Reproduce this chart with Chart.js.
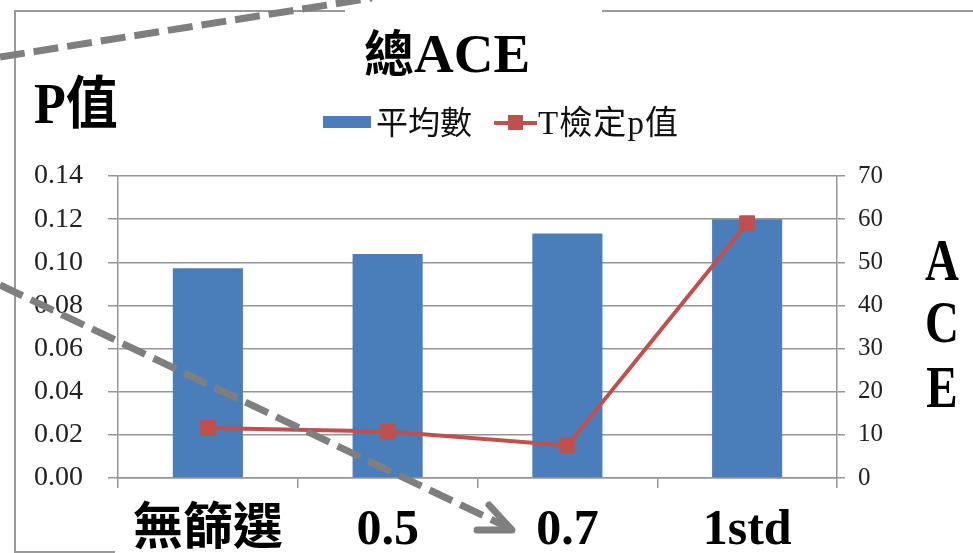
<!DOCTYPE html>
<html>
<head>
<meta charset="utf-8">
<script src="https://cdn.jsdelivr.net/npm/chart.js@4/dist/chart.umd.min.js"></script>
<style>
  html, body { margin: 0; padding: 0; background: #fff; overflow: hidden; }
  #wrap { position: absolute; left: 0; top: 0; width: 973px; height: 553px; }
  #overlay { position: absolute; left: 0; top: 0; pointer-events: none; }
</style>
</head>
<body>
<div id="wrap"><canvas id="myChart"></canvas></div>

<svg id="overlay" width="973" height="553" xmlns="http://www.w3.org/2000/svg">
  <!-- 外框 -->
  <path d="M15,553 V11 H345 M602,11 H973 M15,552 H115" fill="none" stroke="#9a9a9a" stroke-width="2"/>

  <!-- 標題 / 軸名 -->
  <text x="364" y="72" font-family="'Liberation Serif','Noto Sans CJK TC'" font-weight="bold" font-size="55" fill="#000"><tspan font-size="50">總</tspan>ACE</text>
  <text transform="translate(34,123) scale(1,1.1)" font-family="'Liberation Serif','Noto Sans CJK TC'" font-weight="bold" font-size="52" fill="#000">P值</text>
  <g font-family="'Liberation Serif'" font-weight="bold" font-size="47" fill="#000" text-anchor="middle">
    <text transform="translate(942,280) scale(1,1.28)">A</text>
    <text transform="translate(942,342) scale(1,1.28)">C</text>
    <text transform="translate(942,407) scale(1,1.28)">E</text>
  </g>

  <!-- 圖例 -->
  <rect x="323" y="116" width="48" height="12" fill="#4a7ebb"/>
  <text x="376" y="134" font-family="'Noto Sans CJK TC'" font-size="32" fill="#111">平均數</text>
  <rect x="494" y="121" width="43" height="4" fill="#c0504d"/>
  <rect x="508" y="115" width="15" height="15" fill="#c0504d"/>
  <text x="538" y="134" font-family="'Liberation Serif','Noto Sans CJK TC'" font-size="33" fill="#111" textLength="140">T檢定p值</text>

  <!-- 虛線箭頭 -->
  <g stroke="#7f7f7f" stroke-width="7" fill="none">
    <line x1="0" y1="57" x2="372" y2="-2" stroke-dasharray="25 9"/>
    <line x1="0" y1="285" x2="505" y2="526" stroke-dasharray="25 9"/>
    <polyline points="477,530 512,530 489,505" stroke-linecap="round" stroke-linejoin="round"/>
  </g>
</svg>

<script>
// 篩選條件
const categories = ['無篩選', '0.5', '0.7', '1std']
// 總ACE 平均數 (右軸)
const aceMean = [48.6, 51.9, 56.7, 60.0]
// T檢定 p值 (左軸)
const tTestP = [0.0232, 0.0216, 0.0151, 0.1181]
// 左軸刻度
const pTicks = [0, 0.02, 0.04, 0.06, 0.08, 0.10, 0.12, 0.14]
// 右軸刻度
const aceTicks = [0, 10, 20, 30, 40, 50, 60, 70]

document.addEventListener('DOMContentLoaded', function () {
  drawChart()
})

function drawChart() {
  const gridColor = '#969696'
  const serif = "'Liberation Serif', 'Noto Sans CJK TC'"

  let ctx = document.getElementById('myChart')
  const data = {
    labels: categories,
    datasets: [{
      type: 'line',
      label: 'T檢定p值',
      data: tTestP,
      yAxisID: 'yP',
      order: 0,
      borderColor: '#c0504d',
      borderWidth: 4,
      pointStyle: 'rect',
      pointRadius: 10.5,
      pointBackgroundColor: '#c0504d',
      pointBorderColor: '#c0504d',
      pointBorderWidth: 1,
      tension: 0
    }, {
      type: 'bar',
      label: '平均數',
      data: aceMean,
      yAxisID: 'yAce',
      order: 1,
      backgroundColor: '#4a7ebb',
      borderWidth: 0,
      barPercentage: 0.39,
      categoryPercentage: 1
    }]
  }

  const config = {
    type: 'bar',
    data: data,
    options: {
      responsive: true,
      maintainAspectRatio: false,
      animation: false,
      layout: {
        padding: { top: 176, left: 0, right: 0, bottom: 0 }
      },
      plugins: {
        legend: { display: false },
        title: { display: false },
        tooltip: { enabled: false }
      },
      scales: {
        x: {
          offset: true,
          grid: {
            offset: true,
            drawOnChartArea: false,
            tickLength: 10,
            color: gridColor,
            lineWidth: 1.5
          },
          border: { color: gridColor, width: 1.5 },
          ticks: {
            color: '#000',
            font: { family: serif, size: 50, weight: 'bold' },
            padding: 13,
            maxRotation: 0,
            autoSkip: false
          },
          afterFit: function (scale) { scale.height = 75 }
        },
        yP: {
          position: 'left',
          min: pTicks[0],
          max: pTicks[pTicks.length - 1],
          afterBuildTicks: function (scale) {
            scale.ticks = pTicks.map((v) => ({ value: v }))
          },
          grid: { tickLength: 10, color: gridColor, lineWidth: 1.5 },
          border: { color: gridColor, width: 1.5 },
          ticks: {
            color: '#222',
            font: { family: serif, size: 28 },
            padding: 25,
            callback: (v) => Number(v).toFixed(2)
          },
          afterFit: function (scale) { scale.width = 118 }
        },
        yAce: {
          position: 'right',
          min: aceTicks[0],
          max: aceTicks[aceTicks.length - 1],
          afterBuildTicks: function (scale) {
            scale.ticks = aceTicks.map((v) => ({ value: v }))
          },
          grid: { drawOnChartArea: false, tickLength: 8, color: gridColor, lineWidth: 1.5 },
          border: { color: gridColor, width: 1.5 },
          ticks: {
            color: '#222',
            font: { family: serif, size: 25 },
            padding: 13
          },
          afterFit: function (scale) { scale.width = 136 }
        }
      }
    }
  }
  const myChart = new Chart(ctx, config)
}
</script>
</body>
</html>
